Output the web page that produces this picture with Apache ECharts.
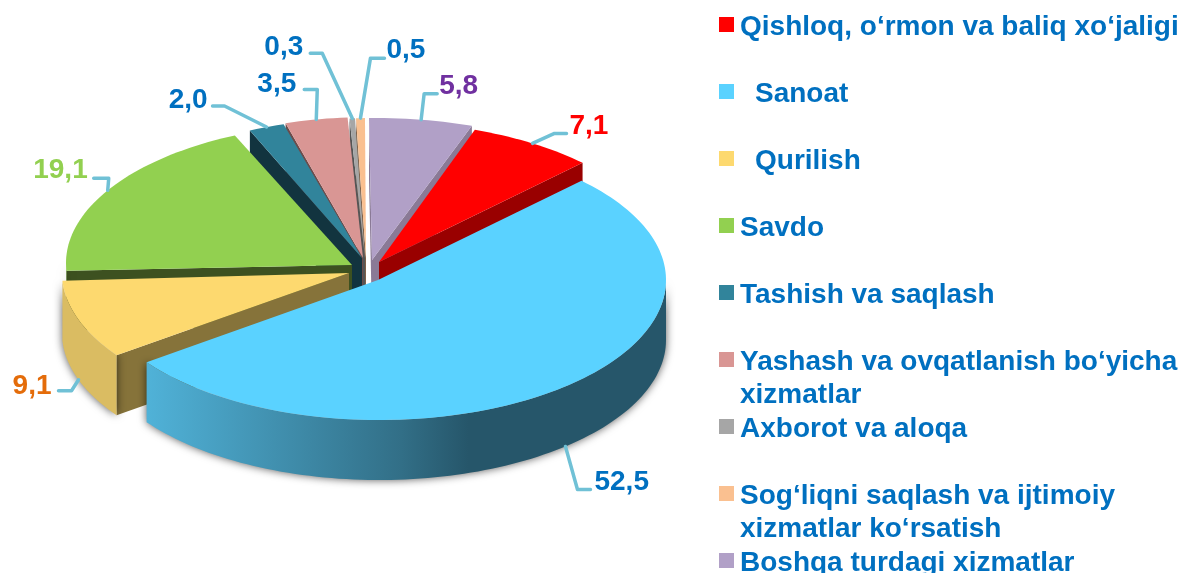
<!DOCTYPE html>
<html>
<head>
<meta charset="utf-8">
<style>
  html, body { margin: 0; padding: 0; background: #fff; overflow: hidden; }
  #chart { width: 1181px; height: 573px; }
</style>
<script src="https://cdn.jsdelivr.net/npm/echarts@6/dist/echarts.min.js"></script>
</head>
<body>
<div id="chart"></div>
<script>
// data, in legend order
const categories = [
  'Qishloq, o‘rmon va baliq xo‘jaligi',
  'Sanoat',
  'Qurilish',
  'Savdo',
  'Tashish va saqlash',
  'Yashash va ovqatlanish bo‘yicha\nxizmatlar',
  'Axborot va aloqa',
  'Sog‘liqni saqlash va ijtimoiy\nxizmatlar ko‘rsatish',
  'Boshqa turdagi xizmatlar'
];
const values = [7.1, 52.5, 9.1, 19.1, 2.0, 3.5, 0.3, 0.5, 5.8];

// colours
const topColors = ['#ff0000', '#5ad2ff', '#fdd96f', '#92d050', '#31849b', '#d99694', '#a6a6a6', '#fac090', '#b1a0c7'];
const sideColors = ['#990000', '#26566a', '#86733a', '#3d5120', '#12343f', '#6d4b4a', '#555555', '#7d6048', '#8a7a96'];
const wallColors = ['#990000', '#26566a', '#dabc62', '#5f8a35', '#1d4f5d', '#825a59', '#636363', '#967356', '#6a6077'];
const labelColors = ['#ff0000', '#0070c0', '#e46c0a', '#92d050', '#0070c0', '#0070c0', '#0070c0', '#0070c0', '#7030a0'];
const leaderColor = '#70c1d6';
const textBlue = '#0070c0';

// pie layout: every slice is pulled out on its own
const startAngle = 19.3;
const radiusX = 287;
const radiusY = 140;
const depth = 60;
const arcCenters = [[380, 262], [379, 280], [349, 273], [353, 263], [368, 258], [370, 257], [372, 258], [373, 258], [377, 258]];
const apexes = [[379, 262], [378, 280], [349, 273], [352, 265], [362, 258], [363, 258], [365, 258], [366, 258], [372, 260]];
// paint back to front
const drawOrder = [8, 7, 6, 5, 4, 0, 3, 2, 1];

// leader lines: elbow relative to the slice edge, then the tail length
const leaderElbows = [[22, -10], [12, 43], [-7, 11], [1, -12], [-42, -21], [1, -30], [-30, -65], [10, -60], [3, -26]];
const leaderTails = [12, 13, -13, -15, -12, -13, -12, 14, 13];
const labelShifts = [[3, -7], [4, -7], [-7, -5], [-6, -8], [-5, -6], [-8, -5], [-7, -6], [2, -8], [2, -7]];

// legend rows
const legendRowY = [24.5, 91.5, 158.5, 225.5, 292.5, 359.5, 426.5, 493.5, 560.5];
const legendIndent = [1, 16, 16, 1, 1, 1, 1, 1, 1];
const lineHeight = 33;
const textDrop = 3;

const total = values.reduce((a, b) => a + b, 0);
const sliceAngles = [];
values.reduce((from, v) => {
  const to = from + v / total * 360;
  sliceAngles.push([from, to]);
  return to;
}, startAngle);

const toPoint = (c, deg, down = 0) => {
  const t = deg * Math.PI / 180;
  return [c[0] + radiusX * Math.sin(t), c[1] - radiusY * Math.cos(t) + down];
};

const arcPoints = (c, from, to, down = 0) => {
  const pts = [];
  const steps = Math.max(2, Math.ceil((to - from) / 1.5));
  for (let s = 0; s <= steps; s++) pts.push(toPoint(c, from + (to - from) * s / steps, down));
  return pts;
};

const wallFill = (i) => {
  if (i !== 1) return wallColors[i];
  return new echarts.graphic.LinearGradient(0, 0, 1, 0, [
    { offset: 0, color: '#50b2d8' },
    { offset: 0.49, color: '#326f87' },
    { offset: 0.62, color: sideColors[1] },
    { offset: 1, color: sideColors[1] }
  ]);
};

const renderSlice = (i, order) => (params, api) => {
  const value = api.value(0);
  const [from, to] = sliceAngles[i];
  const c = arcCenters[i];
  const apex = apexes[i];
  const children = [];
  const base = order * 10;

  const sideFace = (deg) => {
    const p = toPoint(c, deg);
    children.push({
      type: 'polygon',
      z2: base,
      shape: { points: [apex, p, [p[0], p[1] + depth], [apex[0], apex[1] + depth]] },
      style: { fill: sideColors[i] }
    });
  };
  const norm = (d) => ((d % 360) + 360) % 360;
  if (norm(from) > 180) sideFace(from);
  if (norm(to) < 180) sideFace(to);

  // outer wall, only the front half of the ellipse shows
  const wallFrom = Math.max(from, 90);
  const wallTo = Math.min(to, 270);
  if (wallTo > wallFrom) {
    const pts = arcPoints(c, wallFrom, wallTo).concat(arcPoints(c, wallFrom, wallTo, depth).reverse());
    children.push({
      type: 'polygon',
      z2: base + 1,
      shape: { points: pts },
      style: { fill: wallFill(i), shadowBlur: 9, shadowColor: 'rgba(0,0,0,0.65)' }
    });
  }

  children.push({
    type: 'polygon',
    z2: base + 2,
    shape: { points: [apex].concat(arcPoints(c, from, to)) },
    style: { fill: topColors[i] }
  });

  // leader line and value label
  const mid = (from + to) / 2;
  const onWall = norm(mid) > 90 && norm(mid) < 270;
  const a = toPoint(c, mid, onWall ? depth : 0);
  const elbow = [a[0] + leaderElbows[i][0], a[1] + leaderElbows[i][1]];
  const tail = [elbow[0] + leaderTails[i], elbow[1]];
  children.push({
    type: 'polyline',
    z2: 1000,
    shape: { points: [a, elbow, tail] },
    style: { stroke: leaderColor, lineWidth: 3.5, fill: 'none', lineCap: 'round', lineJoin: 'round' }
  });
  children.push({
    type: 'text',
    z2: 1001,
    x: tail[0] + labelShifts[i][0],
    y: tail[1] + labelShifts[i][1],
    style: {
      text: value.toFixed(1).replace('.', ','),
      fill: labelColors[i],
      font: 'bold 28px "Liberation Sans", Arial, sans-serif',
      align: leaderTails[i] > 0 ? 'left' : 'right',
      verticalAlign: 'middle'
    }
  });
  return { type: 'group', children };
};

const chart = echarts.init(document.getElementById('chart'), null, { renderer: 'canvas' });

const legendFont = {
  color: textBlue,
  fontFamily: '"Liberation Sans", Arial, sans-serif',
  fontWeight: 'bold',
  fontSize: 28,
  lineHeight
};

// text box is centred on the icon, top padding pushes the first line onto the icon row
const legends = categories.map((name, i) => {
  const lines = name.split('\n');
  const padTop = lines.length > 1 ? 2 * (textDrop + lineHeight / 2) : 2 * textDrop;
  const boxHeight = lines.length * lineHeight + padTop;
  return {
    data: [name],
    orient: 'vertical',
    left: 719,
    top: legendRowY[i] - boxHeight / 2,
    padding: 0,
    itemWidth: 15,
    itemHeight: 15,
    icon: 'rect',
    selectedMode: false,
    formatter: (n) => n.split('\n').map((l) => `{t|${l}}`).join('\n'),
    textStyle: {
      ...legendFont,
      padding: [padTop, 0, 0, legendIndent[i]],
      rich: { t: legendFont }
    }
  };
});

chart.setOption({
  animation: false,
  legend: legends,
  series: drawOrder.map((i, order) => ({
    type: 'custom',
    name: categories[i],
    coordinateSystem: 'none',
    silent: true,
    itemStyle: { color: topColors[i] },
    data: [[values[i]]],
    renderItem: renderSlice(i, order)
  }))
});

window.addEventListener('resize', () => chart.resize());
</script>
</body>
</html>
